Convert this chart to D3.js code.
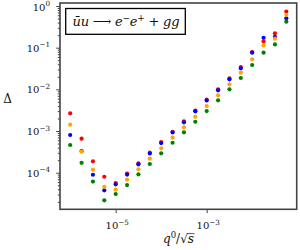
<!DOCTYPE html>
<html><head><meta charset="utf-8">
<script src="https://cdn.jsdelivr.net/npm/d3@7"></script>
<style>
html,body{margin:0;padding:0;background:#fff;}
svg text{font-family:"DejaVu Serif",serif;fill:#111;}
</style></head>
<body><svg id="c" width="300" height="250"></svg>
<script>
// q0/sqrt(s)
const xValues = [1.0e-6, 1.78e-6, 3.16e-6, 5.62e-6, 1.0e-5, 1.78e-5, 3.16e-5, 5.62e-5,
  1.0e-4, 1.78e-4, 3.16e-4, 5.62e-4, 1.0e-3, 1.78e-3, 3.16e-3, 5.62e-3,
  1.0e-2, 1.78e-2, 3.16e-2, 5.62e-2];
const redValues = [2.66e-3, 6.54e-4, 1.88e-4, 8.0e-5, 5.65e-5, 9.55e-5, 1.68e-4, 3.02e-4, 5.45e-4, 9.62e-4,
  1.71e-3, 3.11e-3, 5.64e-3, 1.00e-2, 1.84e-2, 3.44e-2, 7.87e-2, 0.142, 0.221, 0.738];
const blueValues = [8.02e-4, 3.3e-4, 8.94e-5, 3.78e-5, 5.26e-5, 9.04e-5, 1.59e-4, 2.89e-4, 5.15e-4, 9.21e-4,
  1.62e-3, 2.97e-3, 5.40e-3, 9.48e-3, 1.74e-2, 3.20e-2, 7.57e-2, 0.173, 0.183, 0.507];
const orangeValues = [1.42e-3, 3.2e-4, 1.18e-4, 4.58e-5, 3.91e-5, 6.79e-5, 1.21e-4, 2.17e-4, 3.85e-4, 6.91e-4,
  1.23e-3, 2.20e-3, 3.98e-3, 7.19e-3, 1.32e-2, 2.51e-2, 5.26e-2, 0.113, 0.164, 0.608];
const greenValues = [4.62e-4, 1.73e-4, 6.14e-5, 2.17e-5, 3.08e-5, 5.06e-5, 9.14e-5, 1.62e-4, 2.92e-4, 5.24e-4,
  9.31e-4, 1.67e-3, 3.02e-3, 5.46e-3, 1.00e-2, 1.87e-2, 3.84e-2, 7.57e-2, 0.120, 0.420];
const xTickExps = ["−5", "−3"];
const xTickValues = [1e-5, 1e-3];
const yTickExps = ["0", "−1", "−2", "−3", "−4"];
const yTickValues = [1e0, 1e-1, 1e-2, 1e-3, 1e-4];

const series = [
  {values: redValues, color: "#ff0000"},
  {values: blueValues, color: "#0000ff"},
  {values: orangeValues, color: "#ffa500"},
  {values: greenValues, color: "#008000"}
];

const L = 60, R = 296.7, T = 3, B = 209.3;
const x = d3.scaleLog().domain([Math.pow(10, -6.224), Math.pow(10, -1.022)]).range([L, R]);
const y = d3.scaleLog().domain([Math.pow(10, -4.878), Math.pow(10, 0.072)]).range([B, T]);

const svg = d3.select("#c");

// points
series.forEach(s => {
  svg.append("g").selectAll("circle").data(s.values).join("circle")
    .attr("cx", (d, i) => x(xValues[i])).attr("cy", d => y(d))
    .attr("r", 2.1).attr("fill", s.color);
});

// y minor ticks
const yMinor = [];
for (let e = -5; e <= 0; e++) for (let m = 2; m <= 9; m++) {
  const v = m * Math.pow(10, e);
  if (v >= y.domain()[0] && v <= y.domain()[1]) yMinor.push(v);
}
const axisColor = "#444";
const yMinG = svg.append("g").attr("transform", `translate(${L},0)`)
  .call(d3.axisLeft(y).tickValues(yMinor).tickSize(2.2).tickFormat(""));
const yMajG = svg.append("g").attr("transform", `translate(${L},0)`)
  .call(d3.axisLeft(y).tickValues(yTickValues).tickSize(3.8).tickFormat(""));
const xMajG = svg.append("g").attr("transform", `translate(0,${B})`)
  .call(d3.axisBottom(x).tickValues(xTickValues).tickSize(3.8).tickFormat(""));
[yMinG, yMajG, xMajG].forEach(g => {
  g.select(".domain").remove();
  g.selectAll("line").attr("stroke", axisColor).attr("stroke-width", 1);
});

// frame
svg.append("rect").attr("x", L).attr("y", T).attr("width", R - L).attr("height", B - T)
  .attr("fill", "none").attr("stroke", axisColor).attr("stroke-width", 1.6);

// tick labels
yTickValues.forEach((v, i) => {
  const t = svg.append("text").attr("x", 50).attr("y", Math.max(y(v) + 4, 10.5))
    .attr("text-anchor", "end").attr("font-size", 10);
  t.append("tspan").text("10");
  t.append("tspan").attr("font-size", 7.2).attr("dy", -4.5).text(yTickExps[i]);
});
xTickValues.forEach((v, i) => {
  const t = svg.append("text").attr("x", x(v) + 1.5).attr("y", 229.3)
    .attr("text-anchor", "middle").attr("font-size", 10);
  t.append("tspan").text("10");
  t.append("tspan").attr("font-size", 7.2).attr("dy", -4.5).text(xTickExps[i]);
});

// axis labels
svg.append("text").attr("x", 7.5).attr("y", 103).attr("text-anchor", "middle")
  .attr("font-size", 12).text("Δ");
const xl = svg.append("text").attr("x", 178.5).attr("y", 243).attr("text-anchor", "middle")
  .attr("font-size", 12);
xl.append("tspan").attr("font-style", "italic").text("q");
xl.append("tspan").attr("font-size", 8.5).attr("dy", -5.5).text("0");
xl.append("tspan").attr("dy", 5.5).text("/√");
xl.append("tspan").attr("font-style", "italic").text("s");
{
  const n = xl.node();
  const idx = n.getNumberOfChars() - 1;
  const ext = n.getExtentOfChar(idx);
  const rootExt = n.getExtentOfChar(idx - 1);
  svg.append("line").attr("x1", rootExt.x + rootExt.width - 0.8).attr("x2", ext.x + ext.width + 0.5)
    .attr("y1", rootExt.y + 1.6).attr("y2", rootExt.y + 1.6)
    .attr("stroke", "#111").attr("stroke-width", 0.7);
}

// annotation box
svg.append("rect").attr("x", 65.7).attr("y", 8.5).attr("width", 119.6).attr("height", 25.8)
  .attr("fill", "#fff").attr("stroke", "#000").attr("stroke-width", 1.3);
const at = svg.append("text").attr("x", 72.5).attr("y", 26).attr("font-size", 13);
at.append("tspan").attr("font-style", "italic").text("ūu");
at.append("tspan").text(" ⟶ ");
at.append("tspan").attr("font-style", "italic").text("e");
at.append("tspan").attr("font-size", 9).attr("dy", -5.5).text("−");
at.append("tspan").attr("font-style", "italic").attr("dy", 5.5).text("e");
at.append("tspan").attr("font-size", 9).attr("dy", -5.5).text("+");
at.append("tspan").attr("dy", 5.5).text(" + ");
at.append("tspan").attr("font-style", "italic").text("gg");
at.attr("textLength", 107).attr("lengthAdjust", "spacing");
</script></body></html>
